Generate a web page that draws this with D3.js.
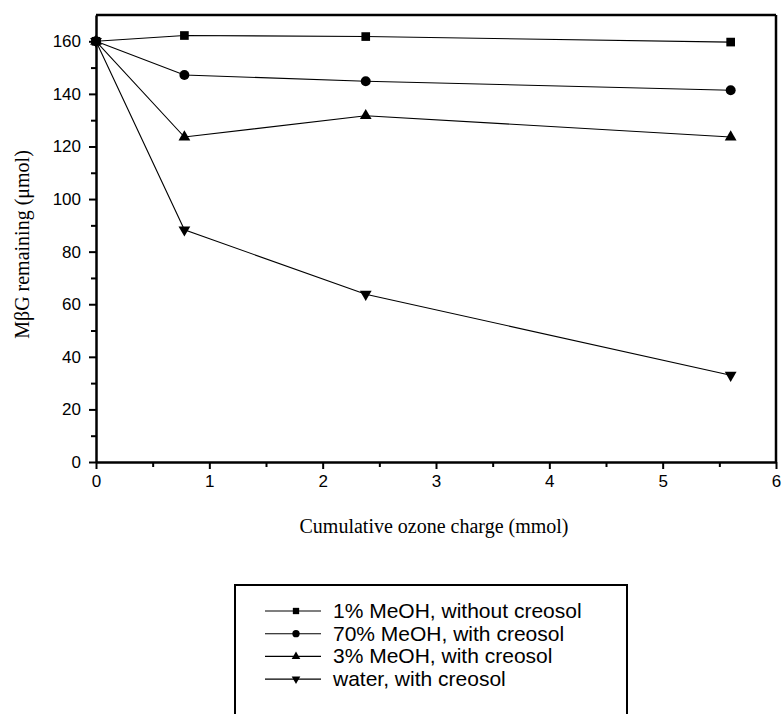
<!DOCTYPE html>
<html>
<head>
<meta charset="utf-8">
<script src="https://cdn.jsdelivr.net/npm/d3@7"></script>
<style>
  body { margin: 0; background: #fff; }
  .tick text { font-family: "Liberation Sans", Arial, sans-serif; font-size: 17px; fill: #000; }
  .axis-label { font-family: "Liberation Serif", "Times New Roman", serif; font-size: 20px; fill: #000; }
  .legend-text { font-family: "Liberation Sans", Arial, sans-serif; font-size: 21px; fill: #000; }
</style>
</head>
<body>
<svg width="783" height="714"></svg>
<script>
// Cumulative ozone charge (mmol) at each sampling point
const xCharge = [0, 0.78, 2.38, 5.6];

// MβG remaining (µmol) per run
const meoh1NoCreosol = [160, 162.2, 161.8, 159.7];
const meoh70Creosol = [160, 147.2, 144.8, 141.4];
const meoh3Creosol = [160, 123.6, 131.7, 123.6];
const waterCreosol = [160, 88.3, 63.8, 33];

const seriesNames = [
  "1% MeOH, without creosol",
  "70% MeOH, with creosol",
  "3% MeOH, with creosol",
  "water, with creosol"
];
const seriesValues = [meoh1NoCreosol, meoh70Creosol, meoh3Creosol, waterCreosol];

const xTicks = [0, 1, 2, 3, 4, 5, 6];
const yTicks = [0, 20, 40, 60, 80, 100, 120, 140, 160];

const svg = d3.select("svg");
const margin = { top: 15, right: 7, bottom: 252, left: 96 };
const width = +svg.attr("width") - margin.left - margin.right;
const height = +svg.attr("height") - margin.top - margin.bottom;

const g = svg.append("g")
  .attr("transform", `translate(${margin.left},${margin.top})`);

const x = d3.scaleLinear().domain([0, 6]).range([0, width]);
const y = d3.scaleLinear().domain([0, 170]).range([height, 0]);

// minor ticks first, so the labelled axis sits on top
g.append("g")
  .attr("transform", `translate(0,${height})`)
  .call(d3.axisBottom(x).tickValues(d3.range(0.5, 6, 1)).tickSize(5).tickFormat(""))
  .call(a => a.select(".domain").remove())
  .call(a => a.selectAll("line").attr("stroke-width", 2));

g.append("g")
  .call(d3.axisLeft(y).tickValues(d3.range(10, 170, 20)).tickSize(5).tickFormat(""))
  .call(a => a.select(".domain").remove())
  .call(a => a.selectAll("line").attr("stroke-width", 2));

// X-axis
g.append("g")
  .attr("transform", `translate(0,${height})`)
  .call(d3.axisBottom(x).tickValues(xTicks).tickSize(7).tickSizeOuter(0).tickPadding(6).tickFormat(d3.format("d")))
  .call(a => a.select(".domain").attr("stroke-width", 2.5))
  .call(a => a.selectAll(".tick line").attr("stroke-width", 2));

// Y-axis
g.append("g")
  .call(d3.axisLeft(y).tickValues(yTicks).tickSize(7).tickSizeOuter(0).tickPadding(8))
  .call(a => a.select(".domain").attr("stroke-width", 2.5))
  .call(a => a.selectAll(".tick line").attr("stroke-width", 2));

// top and right frame
g.append("line").attr("x1", 0).attr("x2", width).attr("y1", 0).attr("y2", 0)
  .attr("stroke", "#000").attr("stroke-width", 2.5);
g.append("line").attr("x1", width).attr("x2", width).attr("y1", 0).attr("y2", height)
  .attr("stroke", "#000").attr("stroke-width", 2.5);

// axis labels
g.append("text")
  .attr("class", "axis-label")
  .attr("x", width / 2 - 2)
  .attr("y", height + 71)
  .attr("text-anchor", "middle")
  .text("Cumulative ozone charge (mmol)");

g.append("text")
  .attr("class", "axis-label")
  .attr("transform", "rotate(-90)")
  .attr("x", -height / 2 - 6)
  .attr("y", -67)
  .attr("text-anchor", "middle")
  .text("MβG remaining (μmol)");

// marker shapes per series
const symbols = [
  { type: d3.symbolSquare, size: 75, rot: 0 },
  { type: d3.symbolCircle, size: 78, rot: 0 },
  { type: d3.symbolTriangle, size: 60, rot: 0 },
  { type: d3.symbolTriangle, size: 60, rot: 180 }
];

const line = d3.line()
  .x(d => x(d[0]))
  .y(d => y(d[1]));

seriesValues.forEach((vals, i) => {
  const pts = xCharge.map((c, j) => [c, vals[j]]);

  g.append("path")
    .datum(pts)
    .attr("fill", "none")
    .attr("stroke", "#000")
    .attr("stroke-width", 1.1)
    .attr("d", line);

  g.selectAll(null)
    .data(pts)
    .join("path")
    .attr("transform", d => `translate(${x(d[0])},${y(d[1])}) rotate(${symbols[i].rot})`)
    .attr("d", d3.symbol().type(symbols[i].type).size(symbols[i].size))
    .attr("fill", "#000");
});

// Legend box (runs off the bottom edge)
const legend = svg.append("g").attr("transform", "translate(235,585)");

legend.append("rect")
  .attr("x", 0)
  .attr("y", 0)
  .attr("width", 392)
  .attr("height", 150)
  .attr("fill", "none")
  .attr("stroke", "#000")
  .attr("stroke-width", 2);

const legendSymbol = [
  { type: d3.symbolSquare, size: 40, rot: 0 },
  { type: d3.symbolCircle, size: 42, rot: 0 },
  { type: d3.symbolTriangle, size: 32, rot: 0 },
  { type: d3.symbolTriangle, size: 32, rot: 180 }
];

seriesNames.forEach((name, i) => {
  const row = legend.append("g").attr("transform", `translate(0,${26 + i * 22.7})`);

  row.append("line")
    .attr("x1", 30).attr("x2", 86)
    .attr("y1", 0).attr("y2", 0)
    .attr("stroke", "#000")
    .attr("stroke-width", 1.1);

  row.append("path")
    .attr("transform", `translate(61,0) rotate(${legendSymbol[i].rot})`)
    .attr("d", d3.symbol().type(legendSymbol[i].type).size(legendSymbol[i].size))
    .attr("fill", "#000");

  row.append("text")
    .attr("class", "legend-text")
    .attr("x", 98)
    .attr("y", 7)
    .text(name);
});
</script>
</body>
</html>
